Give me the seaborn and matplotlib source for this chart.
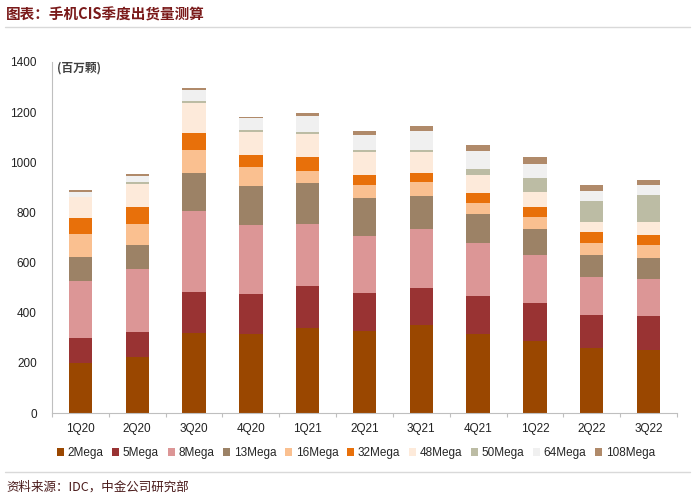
import numpy as np
import pandas as pd
import matplotlib
matplotlib.use("Agg")
import matplotlib.pyplot as plt
from matplotlib.lines import Line2D
from matplotlib.patches import Patch
import seaborn as sns

quarters = ["1Q20", "2Q20", "3Q20", "4Q20", "1Q21", "2Q21", "3Q21", "4Q21", "1Q22", "2Q22", "3Q22"]
series_names = ["2Mega", "5Mega", "8Mega", "13Mega", "16Mega", "32Mega", "48Mega", "50Mega", "64Mega", "108Mega"]

mega2 = [201, 225, 318, 315, 340, 328, 350, 314, 289, 258, 251]
mega5 = [97, 98, 165, 160, 167, 152, 147, 153, 151, 134, 137]
mega8 = [230, 250, 322, 275, 246, 226, 236, 210, 189, 149, 145]
mega13 = [96, 97, 154, 157, 166, 153, 134, 118, 105, 88, 87]
mega16 = [89, 83, 90, 73, 46, 52, 53, 44, 49, 50, 50]
mega32 = [66, 67, 69, 50, 55, 37, 36, 40, 39, 42, 39]
mega48 = [84, 92, 117, 92, 92, 92, 84, 69, 61, 42, 52]
mega50 = [0, 8, 10, 8, 10, 9, 9, 27, 54, 81, 109]
mega64 = [20, 27, 45, 46, 64, 61, 75, 71, 57, 42, 38]
mega108 = [7, 6, 6, 6, 12, 16, 21, 23, 27, 25, 21]

series_values = [mega2, mega5, mega8, mega13, mega16, mega32, mega48, mega50, mega64, mega108]
colors = ["#9A4700", "#993333", "#DC9696", "#9C8266", "#FAC090",
          "#E8700A", "#FDEADA", "#BCBCA4", "#F0F0F0", "#B08A6A"]

title_text = "图表：手机CIS季度出货量测算"
unit_text = "(百万颗)"
source_text = "资料来源：IDC，中金公司研究部"

sns.set_theme(style="white")
plt.rcParams["font.family"] = ["Liberation Sans", "Noto Sans CJK SC", "DejaVu Sans"]

fig = plt.figure(figsize=(6.95, 4.96), dpi=100)
ax = fig.add_axes([52 / 695, 83 / 496, 625 / 695, 351 / 496])

bottom = np.zeros(len(quarters))
for name, vals, col in zip(series_names, series_values, colors):
    df = pd.DataFrame({"quarter": quarters, "value": vals})
    sns.barplot(data=df, x="quarter", y="value", order=quarters, color=col,
                width=0.41, bottom=bottom, ax=ax, linewidth=0,
                saturation=1, errorbar=None)
    bottom = bottom + np.array(vals, dtype=float)

ax.set_ylim(0, 1400)
ax.set_xlim(-0.5, len(quarters) - 0.5)
ax.set_yticks(np.arange(0, 1401, 200))
ax.set_xlabel("")
ax.set_ylabel("")
for s in ["top", "right"]:
    ax.spines[s].set_visible(False)
ax.spines["left"].set_color("#BFBFBF")
ax.spines["bottom"].set_color("#BFBFBF")
ax.spines["left"].set_linewidth(0.8)
ax.spines["bottom"].set_linewidth(0.8)
ax.tick_params(axis="y", length=0, pad=11, labelsize=8.5, labelcolor="#222222")
ax.tick_params(axis="x", length=0, pad=7, labelsize=8.5, labelcolor="#222222")
ax.set_xticks(np.arange(-0.5, len(quarters), 1.0), minor=True)
ax.tick_params(axis="x", which="minor", length=3, color="#BFBFBF", width=0.8, bottom=True)

fig.text(57 / 695, 1 - 68 / 496, unit_text, fontsize=8.5, fontweight="bold",
         color="#404040", va="center", ha="left", family=["Noto Sans CJK SC", "DejaVu Sans"])

fig.text(6 / 695, 1 - 15 / 496, title_text, fontsize=10.5, fontweight="bold",
         color="#7A1A1A", va="center", ha="left", family=["Noto Sans CJK SC", "DejaVu Sans"])
fig.add_artist(Line2D([5 / 695, 690 / 695], [1 - 27 / 496, 1 - 27 / 496],
                      color="#D9D9D9", linewidth=1.0, transform=fig.transFigure))
fig.add_artist(Line2D([5 / 695, 690 / 695], [1 - 472 / 496, 1 - 472 / 496],
                      color="#D9D9D9", linewidth=1.0, transform=fig.transFigure))
fig.text(6 / 695, 1 - 487 / 496, source_text, fontsize=9,
         color="#4A1A1A", va="center", ha="left", family=["Noto Sans CJK SC", "DejaVu Sans"])

handles = [Patch(facecolor=c, edgecolor="none") for c in colors]
fig.legend(handles, series_names, loc="center", bbox_to_anchor=(356 / 695, 1 - 453 / 496),
           ncol=10, frameon=False, fontsize=8.5, handlelength=0.6, handleheight=0.6,
           handletextpad=0.3, columnspacing=0.75, borderaxespad=0)

fig.savefig("out.png", dpi=100)
